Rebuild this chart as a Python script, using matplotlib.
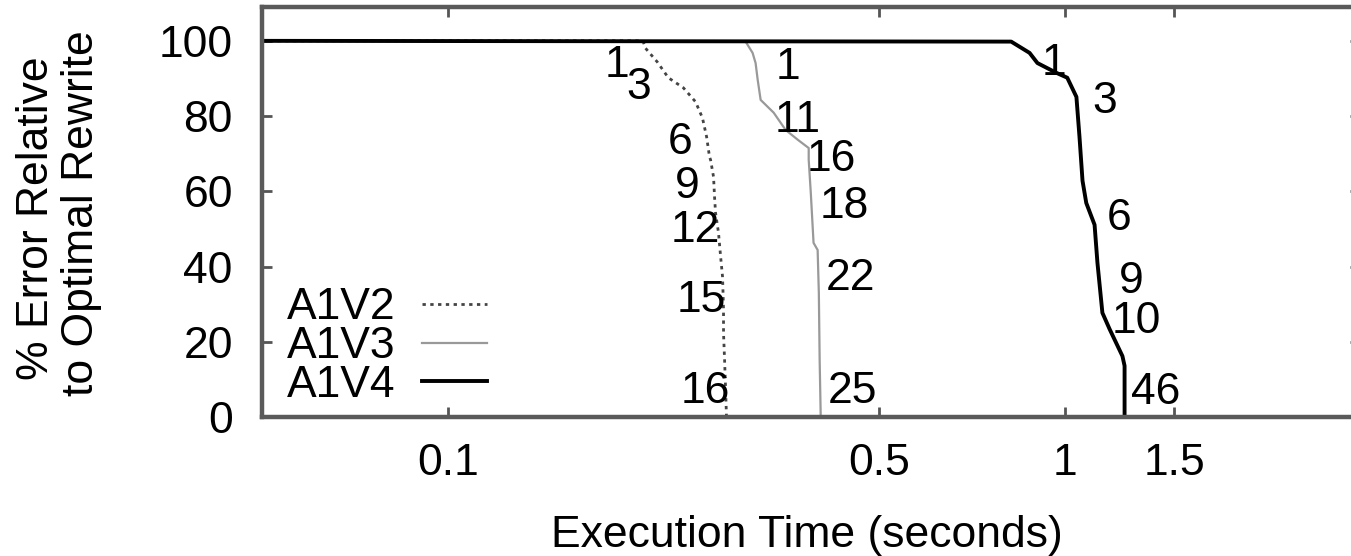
import matplotlib
matplotlib.use("Agg")
import matplotlib.pyplot as plt
from matplotlib.ticker import NullLocator, FixedLocator, FixedFormatter

plt.rcParams['font.family'] = ['Liberation Sans', 'DejaVu Sans']

# ---- data ----
a1v2_time = [0.05, 0.2070, 0.2088, 0.2183, 0.2275, 0.2407, 0.2518, 0.2584, 0.2624, 0.2653,
             0.2663, 0.2693, 0.2703, 0.2713, 0.2743, 0.2765, 0.2785, 0.2795, 0.2795, 0.2806,
             0.2816, 0.2826]
a1v2_err = [100, 100, 98.1, 94.4, 90.2, 87.5, 83.8, 79.5, 74.5, 69.1,
            68.4, 63.8, 58.5, 54.3, 49.0, 42.6, 37.2, 28.5, 22.3, 15.2,
            8.0, 0]

a1v3_time = [0.05, 0.3035, 0.3115, 0.315, 0.3175, 0.321, 0.337, 0.3524, 0.3687, 0.384,
             0.384, 0.387, 0.391, 0.397, 0.3988, 0.400, 0.4016]
a1v3_err = [100, 99.8, 96.8, 94.1, 89.6, 84.3, 80.9, 76.3, 73.7, 71.5,
            68.4, 59.6, 46.3, 44.4, 32.9, 15.1, 0]

a1v4_time = [0.05, 0.817, 0.875, 0.901, 0.967, 1.007, 1.042, 1.054, 1.066, 1.081,
             1.115, 1.127, 1.148, 1.179, 1.237, 1.247, 1.247]
a1v4_err = [100, 99.8, 96.8, 94.1, 91.5, 90.2, 85.1, 74.5, 62.8, 56.9,
            51.1, 41.0, 27.7, 23.4, 16.2, 13.6, 0]

# point labels (text, x, y)
a1v2_lbl_text = ['1', '3', '6', '9', '12', '15', '16']
a1v2_lbl_x = [0.1875, 0.2035, 0.238, 0.2445, 0.2518, 0.2575, 0.2614]
a1v2_lbl_y = [93.5, 87.5, 72.9, 61.2, 49.7, 31.1, 6.9]

a1v3_lbl_text = ['1', '11', '16', '18', '22', '25']
a1v3_lbl_x = [0.355, 0.369, 0.417, 0.439, 0.449, 0.452]
a1v3_lbl_y = [92.8, 78.7, 68.4, 55.9, 36.7, 6.9]

a1v4_lbl_text = ['1', '3', '6', '9', '10', '46']
a1v4_lbl_x = [0.960, 1.157, 1.224, 1.280, 1.304, 1.400]
a1v4_lbl_y = [93.9, 84.0, 52.7, 35.9, 25.3, 6.6]

series_names = ['A1V2', 'A1V3', 'A1V4']
x_ticks = [0.1, 0.5, 1, 1.5]
x_tick_labels = ['0.1', '0.5', '1', '1.5']
y_ticks = [0, 20, 40, 60, 80, 100]

# ---- figure ----
W, H = 1351, 556
fig = plt.figure(figsize=(W / 100, H / 100), dpi=100)
L, R, T, B = 262, 1360, 7, 417
ax = fig.add_axes([L / W, (H - B) / H, (R - L) / W, (B - T) / H])

FS = 32
ax.plot(a1v2_time, a1v2_err, color='#444444', lw=2.0, linestyle=(0, (1.2, 1.6)), label=series_names[0])
ax.plot(a1v3_time, a1v3_err, color='#999999', lw=1.6, linestyle='-', label=series_names[1])
ax.plot(a1v4_time, a1v4_err, color='#000000', lw=2.8, linestyle='-', label=series_names[2])

for txt, lx, ly in zip(a1v2_lbl_text, a1v2_lbl_x, a1v2_lbl_y):
    ax.text(lx, ly, txt, fontsize=FS, ha='center', va='center')
for txt, lx, ly in zip(a1v3_lbl_text, a1v3_lbl_x, a1v3_lbl_y):
    ax.text(lx, ly, txt, fontsize=FS, ha='center', va='center')
for txt, lx, ly in zip(a1v4_lbl_text, a1v4_lbl_x, a1v4_lbl_y):
    ax.text(lx, ly, txt, fontsize=FS, ha='center', va='center')

ax.set_xscale('log')
ax.set_xlim(0.05, 3.0)
ax.set_ylim(0, 109)
ax.xaxis.set_major_locator(FixedLocator(x_ticks))
ax.xaxis.set_major_formatter(FixedFormatter(x_tick_labels))
ax.xaxis.set_minor_locator(NullLocator())
ax.set_yticks(y_ticks)

ax.tick_params(axis='both', which='major', direction='in', length=7, width=2,
               color='#555555', labelsize=FS, top=True, right=True)
ax.tick_params(axis='x', pad=19)
ax.tick_params(axis='y', pad=21)
for s in ax.spines.values():
    s.set_linewidth(3.2)
    s.set_color('#5a5a5a')

fig.text(807 / W, (H - 547) / H, 'Execution Time (seconds)', fontsize=FS,
         ha='center', va='baseline')
fig.text(48 / W, 1 - 218 / H, '% Error Relative', fontsize=FS, rotation=90,
         rotation_mode='anchor', ha='center', va='baseline')
fig.text(93 / W, 1 - 213 / H, 'to Optimal Rewrite', fontsize=FS, rotation=90,
         rotation_mode='anchor', ha='center', va='baseline')

leg = ax.legend(loc='lower left', bbox_to_anchor=(0.0228, 0.027), frameon=False,
                fontsize=FS, markerfirst=False, handlelength=1.45, handletextpad=0.6,
                labelspacing=-0.05, borderpad=0, borderaxespad=0)

fig.savefig('out.png', dpi=100)
